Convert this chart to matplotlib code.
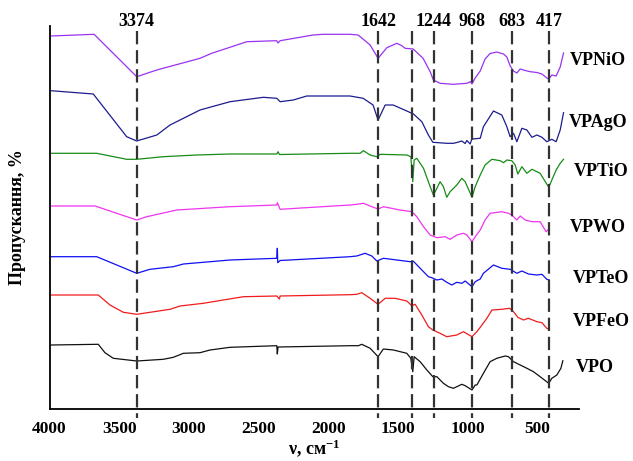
import matplotlib.pyplot as plt

# FTIR spectra, transmittance in arbitrary units (already offset per sample)
vpnio_wn = [3990, 3680, 3374, 3230, 2920, 2836, 2584, 2370, 2360, 2345, 2108, 2037, 1843, 1785,
            1699, 1642, 1579, 1507, 1472, 1448, 1390, 1319, 1268, 1245, 1197, 1103, 1005, 981,
            968, 945, 909, 874, 838, 790, 742, 718, 694, 670, 646, 622, 586, 550, 502, 466,
            431, 417, 395, 364, 335, 311]
vpnio_t = [373, 374.7, 332.3, 339, 350.7, 355.7, 367.3, 368.3, 366, 368.3, 374, 374.7, 374.7, 374,
           364, 350.7, 361.3, 365.7, 363.3, 360.7, 360, 350.7, 337.3, 329, 325.7, 324.7, 325.7, 327.3,
           325, 331, 338, 350, 355.5, 357, 355, 352, 343, 338, 336, 340, 338.5, 337.3, 336.5, 335,
           331, 330, 334, 333, 342, 356]

vpago_wn = [3990, 3686, 3446, 3374, 3230, 3135, 2920, 2704, 2465, 2369, 2345, 2250, 2154, 1843,
            1749, 1678, 1642, 1591, 1534, 1436, 1388, 1328, 1281, 1249, 1149, 1101, 1077, 1041,
            1017, 1005, 981, 969, 909, 886, 814, 754, 718, 694, 670, 646, 610, 574, 538, 502,
            466, 431, 395, 364, 335, 311]
vpago_t = [318.3, 315, 272.3, 268, 274, 284, 299, 307.3, 311.7, 310.7, 307.3, 309, 313, 313,
           310.7, 304, 289, 304, 304, 298, 295, 287.3, 274, 266.7, 265.7, 265.7, 266.5, 268,
           265.5, 268.5, 265, 270, 270.7, 282.3, 298, 294, 282.3, 272.3, 275.7, 267.3, 280.7, 279, 271.7, 274,
           271.7, 267.3, 269.7, 267.3, 279, 296.3]

vptio_wn = [3990, 3661, 3446, 3374, 3183, 2943, 2704, 2369, 2360, 2350, 1843, 1771, 1747, 1699,
            1651, 1627, 1436, 1407, 1393, 1383, 1364, 1316, 1268, 1245, 1220, 1197, 1173, 1149,
            1125, 1077, 1041, 1017, 968, 945, 909, 874, 825, 766, 742, 718, 682, 658, 639, 610,
            574, 538, 502, 479, 417, 395, 364, 335, 311]
vptio_t = [255.7, 255.7, 249.7, 249.7, 252.3, 254, 255, 255, 257.3, 254.5, 255.7, 255.7, 258.3, 254,
           252.3, 254.7, 254, 252.3, 227.3, 249, 250.7, 240.7, 222.3, 214, 220.7, 227.3, 222.3, 211.7,
           217.3, 224, 230.7, 227.3, 211.7, 222.3, 234, 244, 249.7, 248.3, 246.3, 249, 248.3, 244, 235, 242.3,
           235.7, 239.7, 237.3, 235.7, 221.7, 229, 239, 245.7, 249.7]

vpwo_wn = [3990, 3673, 3374, 3302, 3087, 2704, 2369, 2365, 2345, 1843, 1795, 1747, 1687, 1642,
           1604, 1484, 1400, 1364, 1316, 1268, 1220, 1161, 1125, 1077, 1029, 1005, 968, 945,
           909, 874, 838, 754, 706, 682, 646, 622, 586, 538, 479, 436, 419]
vpwo_t = [203, 203, 189, 192.3, 199, 202.3, 204, 206.3, 199.7, 204, 204.7, 205.7, 202.3, 200,
          202.3, 199, 197.3, 192.3, 182.3, 174, 171.3, 172.3, 169.7, 174, 175.7, 174, 167.3, 172.3,
          179, 189, 195.7, 197.3, 195.7, 194, 189, 193, 189, 187.3, 187.3, 177.3, 179.7]

vpteo_wn = [3990, 3661, 3374, 3279, 3111, 3039, 2704, 2369, 2365, 2362, 2345, 1843, 1795, 1735,
            1687, 1651, 1604, 1507, 1412, 1388, 1340, 1281, 1256, 1220, 1184, 1149, 1113, 1077,
            1041, 1017, 968, 945, 909, 886, 814, 754, 694, 646, 610, 563, 502, 466, 431, 416]
vpteo_t = [152.3, 152.3, 135.7, 139.7, 142.3, 145, 149, 150.7, 160.7, 146.3, 148.5, 152.3, 153, 155.7,
           153, 148, 150.7, 149, 147.3, 147.7, 140.7, 132.3, 131.3, 129, 130, 126.7, 124, 126.7,
           125.7, 128, 122.3, 127.3, 130, 135.7, 144, 140.7, 139.7, 135.7, 138, 135, 134, 134.7, 129.7, 129]

vpfeo_wn = [3990, 3650, 3566, 3470, 3374, 3135, 3063, 2896, 2609, 2369, 2350, 2345, 1843, 1795,
            1759, 1699, 1642, 1591, 1520, 1436, 1400, 1376, 1328, 1281, 1249, 1197, 1149, 1077,
            1029, 968, 933, 909, 861, 825, 754, 699, 670, 639, 599, 563, 502, 466, 431, 416]
vpfeo_t = [114, 114, 104, 96.7, 94.7, 99.7, 103, 105.7, 112.3, 113, 110, 113, 114.3, 114.7,
           116.3, 110.7, 104.7, 110.7, 110.7, 108, 103.3, 104.7, 94, 82.3, 79, 75.7, 72.3, 74,
           77.3, 72.3, 77.3, 81.7, 90.7, 99, 99.7, 100.7, 97.3, 91.7, 89, 90.7, 87.3, 86.3, 80.7, 79.7]

vpo_wn = [3990, 3650, 3602, 3542, 3374, 3183, 3111, 3039, 2920, 2848, 2704, 2369, 2365, 2360,
          1843, 1783, 1759, 1699, 1642, 1604, 1532, 1436, 1407, 1393, 1383, 1340, 1292, 1249,
          1220, 1173, 1137, 1101, 1077, 1041, 1017, 968, 945, 933, 886, 838, 790, 730, 706,
          670, 622, 574, 527, 479, 417, 395, 359, 330, 316]
vpo_t = [64, 64.7, 56.3, 50.7, 48, 49.7, 51.7, 55.7, 56.3, 59, 61.7, 63.3, 55, 62,
         63.3, 63.3, 64.7, 60.7, 52.3, 60, 59, 55.7, 50.7, 37.3, 52.3, 47.3, 39, 32.3,
         32.3, 25.7, 22.3, 20.7, 22.3, 24.7, 23.3, 19, 24, 24, 35.7, 47.3, 50.7, 53, 52.3,
         47.3, 44, 40.7, 37.3, 32.3, 25.7, 30.7, 34, 40.7, 48.3]

names = ['VPNiO', 'VPAgO', 'VPTiO', 'VPWO', 'VPTeO', 'VPFeO', 'VPO']
colors = ['#9a32f2', '#1c1c8e', '#178c17', '#f034f0', '#1010f0', '#f01c1c', '#111111']
spectra = [(vpnio_wn, vpnio_t), (vpago_wn, vpago_t), (vptio_wn, vptio_t), (vpwo_wn, vpwo_t),
           (vpteo_wn, vpteo_t), (vpfeo_wn, vpfeo_t), (vpo_wn, vpo_t)]

peaks = [3374, 1642, 1400, 1244, 968, 683, 417]
peak_labels = ['3374', '1642', '', '1244', '968', '683', '417']

# where the sample names sit (wavenumber, level)
name_x = [66, 64, 42, 66, 39, 42, 90]
name_y = [349, 287, 237, 181, 130, 87, 41]

xticks = [4000, 3500, 3000, 2500, 2000, 1500, 1000, 500]

plt.rcParams['font.family'] = ['Liberation Serif', 'DejaVu Serif']
plt.rcParams['font.weight'] = 'bold'
plt.rcParams['mathtext.fontset'] = 'custom'
plt.rcParams['mathtext.rm'] = 'Liberation Serif:bold'
plt.rcParams['mathtext.it'] = 'Liberation Serif:bold'
plt.rcParams['mathtext.bf'] = 'Liberation Serif:bold'

fig = plt.figure(figsize=(6.33, 4.61), dpi=100)
ax = fig.add_axes([0.0782, 0.1128, 0.8365, 0.8308])

for (wn, t), c in zip(spectra, colors):
    ax.plot(wn, t, color=c, lw=0.9)

for p, lab in zip(peaks, peak_labels):
    ax.plot([p, p], [378, -9], color='#333333', lw=1.6, ls=(0, (6, 2.6)), clip_on=False)
    if lab:
        ax.text(p, 388, lab, ha='center', va='center', fontsize=13, fontweight='bold')

for n, x, y in zip(names, name_x, name_y):
    ax.text(x, y, n, ha='center', va='center', fontsize=13, fontweight='bold', clip_on=False)

ax.set_xlim(4000, 200)
ax.set_ylim(0, 383)
ax.set_xticks(xticks)
ax.set_xticklabels([str(v) for v in xticks])
ax.set_yticks([])
ax.tick_params(axis='x', length=0, labelsize=12.5, pad=9)
for s in ['top', 'right']:
    ax.spines[s].set_visible(False)
ax.spines['left'].set_linewidth(1.3)
ax.spines['bottom'].set_linewidth(1.3)

ax.set_xlabel(r'ν, см$^{-1}$', fontsize=13, fontweight='bold', labelpad=0)
ax.set_ylabel('Пропускання, %', fontsize=13, fontweight='bold', labelpad=17)

plt.savefig('out.png', dpi=100)
